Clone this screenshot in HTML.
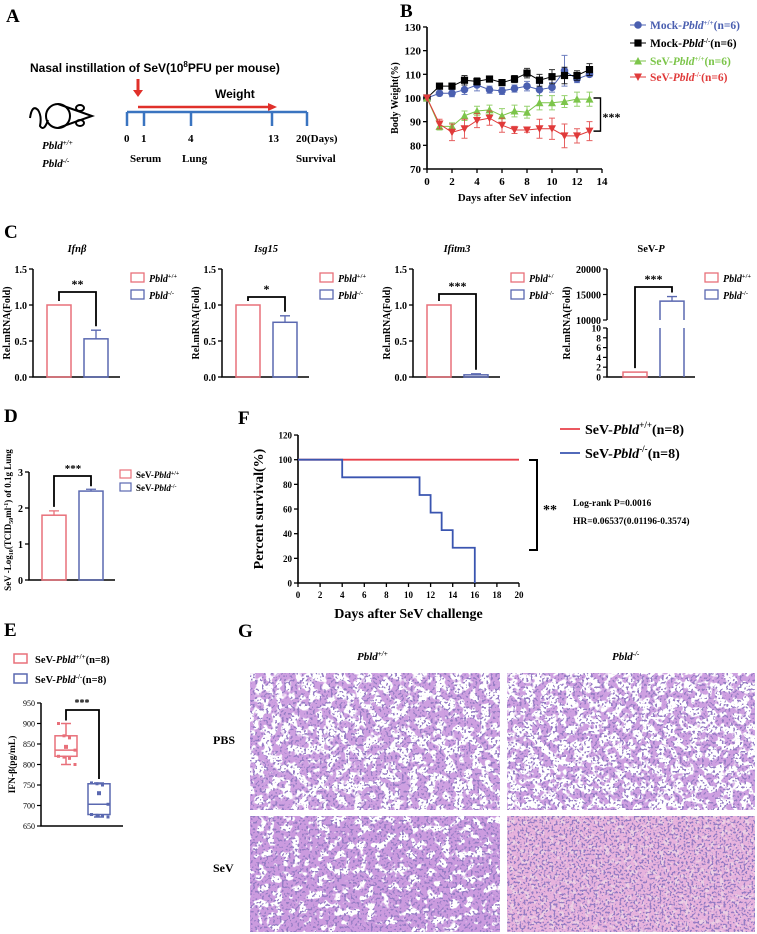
<!DOCTYPE html>
<html><head><meta charset="utf-8"><style>
html,body{margin:0;padding:0;background:#fff;}
svg{display:block;font-family:"Liberation Serif",serif;font-weight:bold;}
</style></head><body>
<svg id="fig" width="757" height="934" viewBox="0 0 757 934" xmlns="http://www.w3.org/2000/svg">
<defs>
<filter id="tissueA" x="0" y="0" width="100%" height="100%"><feTurbulence type="fractalNoise" baseFrequency="0.11" numOctaves="2" seed="3"/><feColorMatrix type="matrix" values="0 0 0 0 0.62  0 0 0 0 0.35  0 0 0 0 0.75  14 0 0 0 -6.3"/></filter>
<filter id="tissueB" x="0" y="0" width="100%" height="100%"><feTurbulence type="fractalNoise" baseFrequency="0.12" numOctaves="2" seed="7"/><feColorMatrix type="matrix" values="0 0 0 0 0.62  0 0 0 0 0.35  0 0 0 0 0.75  14 0 0 0 -6.6"/></filter>
<filter id="tissueC" x="0" y="0" width="100%" height="100%"><feTurbulence type="fractalNoise" baseFrequency="0.12" numOctaves="2" seed="11"/><feColorMatrix type="matrix" values="0 0 0 0 0.6  0 0 0 0 0.33  0 0 0 0 0.74  14 0 0 0 -5.4"/></filter>
<filter id="tissueD" x="0" y="0" width="100%" height="100%"><feTurbulence type="fractalNoise" baseFrequency="0.2" numOctaves="2" seed="5"/><feColorMatrix type="matrix" values="0 0 0 0 0.8  0 0 0 0 0.45  0 0 0 0 0.72  12 0 0 0 -4.2"/></filter>
<filter id="nuclei" x="0" y="0" width="100%" height="100%"><feTurbulence type="fractalNoise" baseFrequency="0.45" numOctaves="1" seed="9"/><feColorMatrix type="matrix" values="0 0 0 0 0.3  0 0 0 0 0.2  0 0 0 0 0.55  22 0 0 0 -12.5"/></filter>
<filter id="nucleiD" x="0" y="0" width="100%" height="100%"><feTurbulence type="fractalNoise" baseFrequency="0.5" numOctaves="1" seed="13"/><feColorMatrix type="matrix" values="0 0 0 0 0.3  0 0 0 0 0.2  0 0 0 0 0.55  22 0 0 0 -12"/></filter>
</defs>

<!-- Panel A -->
<g>
<text x="6" y="22" font-size="19">A</text>
<text x="30" y="72" font-size="12" font-family="Liberation Sans, sans-serif">Nasal instillation of SeV(10<tspan font-size="8" dy="-5">8</tspan><tspan dy="5">PFU per mouse)</tspan></text>
<g><line x1="138" y1="79" x2="138" y2="91" stroke="#e0302a" stroke-width="3"/><polygon points="133,90 143,90 138,97" fill="#e0302a"/></g>
<g><line x1="138" y1="107" x2="270" y2="107" stroke="#e0302a" stroke-width="2.5"/><polygon points="268,103 277,107 268,111" fill="#e0302a"/></g>
<text x="215" y="98" font-size="12" font-family="Liberation Sans, sans-serif">Weight</text>
<g stroke="#3a74c0" stroke-width="2.5" fill="none">
<line x1="127" y1="112" x2="307" y2="112"/>
<line x1="127" y1="112" x2="127" y2="126"/><line x1="144" y1="112" x2="144" y2="126"/><line x1="191" y1="112" x2="191" y2="126"/><line x1="272" y1="112" x2="272" y2="126"/><line x1="307" y1="112" x2="307" y2="126"/>
</g>
<g font-size="11">
<text x="124" y="142">0</text><text x="141" y="142">1</text><text x="188" y="142">4</text><text x="268" y="142">13</text><text x="296" y="142">20(Days)</text>
<text x="130" y="162">Serum</text><text x="182" y="162">Lung</text><text x="296" y="162">Survival</text>
</g>
<g fill="none" stroke="#000" stroke-width="2">
<path d="M30,118 Q32,104 38,110 Q42,116 40,126 Q44,132 48,120"/>
<circle cx="58" cy="116" r="12"/>
<path d="M58,104 L92,116 L58,128"/>
<ellipse cx="80" cy="108" rx="4" ry="3"/><ellipse cx="80" cy="123" rx="4" ry="3"/>
</g>
<text x="42" y="149" font-size="11" font-style="italic">Pbld<tspan font-size="7" dy="-4">+/+</tspan></text>
<text x="42" y="167" font-size="11" font-style="italic">Pbld<tspan font-size="7" dy="-4">-/-</tspan></text>
</g>

<!-- Panel G -->
<g>
<text x="238" y="637" font-size="19">G</text>
<text x="357" y="660" font-size="11" font-style="italic">Pbld<tspan font-size="7" dy="-4">+/+</tspan></text>
<text x="612" y="660" font-size="11" font-style="italic">Pbld<tspan font-size="7" dy="-4">-/-</tspan></text>
<text x="213" y="744" font-size="12">PBS</text>
<text x="213" y="872" font-size="12">SeV</text>
<g>
<rect x="250" y="673" width="250" height="137" fill="#fff"/>
<rect x="250" y="673" width="250" height="137" filter="url(#tissueA)"/>
<rect x="250" y="673" width="250" height="137" filter="url(#nuclei)"/>
</g>
<g>
<rect x="507" y="673" width="248" height="137" fill="#fff"/>
<rect x="507" y="673" width="248" height="137" filter="url(#tissueB)"/>
<rect x="507" y="673" width="248" height="137" filter="url(#nuclei)"/>
</g>
<g>
<rect x="250" y="816" width="250" height="116" fill="#fff"/>
<rect x="250" y="816" width="250" height="116" filter="url(#tissueC)"/>
<rect x="250" y="816" width="250" height="116" filter="url(#nuclei)"/>
</g>
<g>
<rect x="507" y="816" width="248" height="116" fill="#ecd0e4"/>
<rect x="507" y="816" width="248" height="116" filter="url(#tissueD)"/>
<rect x="507" y="816" width="248" height="116" filter="url(#nucleiD)"/>
</g>
</g>

<g id="dyn"></g>
</svg>
<script>
// ---- Panel B data ----
const bDays=[0,1,2,3,4,5,6,7,8,9,10,11,12,13];
const mockWT=[100,102,102,103.5,105.5,103.5,103,104,105,103.5,104.5,111.5,108,110];
const mockWTerr=[0,1,1.5,2,2.5,1.5,1.5,1.5,2,2.5,2,6.5,1.5,1];
const mockKO=[100,105,105,107.5,107,108,106.5,108,110.5,107.5,109,109.5,109.5,112];
const mockKOerr=[0,1,1,2,1.5,1,1,1.5,2,2.5,3,3.5,2,2.5];
const sevWT=[100,88,88,92.5,94.5,95,92.5,94.5,94,98,98,98.5,99.5,99.5];
const sevWTerr=[0,1.5,1.5,2,2,2,3,2.5,2.5,3,3,2.5,3,3];
const sevKO=[100,89,85.5,87,90.5,91.5,88.5,86.5,86.5,87,87,84,84,86];
const sevKOerr=[0,2,3.5,4,3,3,3,1.5,1,4,4.5,5,3,4];
const bYTicks=[70,80,90,100,110,120,130];
const bXTicks=[0,2,4,6,8,10,12,14];
// ---- Panel C data ----
const cGenes=["Ifnβ","Isg15","Ifitm3","SeV-P"];
const cWT=[1,1,1,1];
const cKO=[0.53,0.76,0.03,13700];
const cKOerr=[0.65,0.85,0.045,14600];
const cStars=["**","*","***","***"];
const cTicks=[0,0.5,1.0,1.5];
const cTickLabels=["0.0","0.5","1.0","1.5"];
const cLowTicks=[0,2,4,6,8,10];
const cHighTicks=[10000,15000,20000];
// ---- Panel D data ----
const dVals=[1.8,2.47];
const dErr=[1.92,2.52];
const dTicks=[0,1,2,3];
// ---- Panel E data ----
const eWTpts=[900,870,865,835,820,818,815,800];
const eKOpts=[755,753,750,703,678,676,675,672];
const eWTbox=[800,820,835,870,900];
const eKObox=[672,678,703,753,755];
const eWTmean=843, eKOmean=730;
const eTicks=[650,700,750,800,850,900,950];
// ---- Panel F data ----
const fWTdays=[0,20], fWTsurv=[100,100];
const fKOdays=[0,4,11,12,13,14,16];
const fKOsurv=[100,85.7,71.4,57.1,42.9,28.6,0];
const fXTicks=[0,2,4,6,8,10,12,14,16,18,20];
const fYTicks=[0,20,40,60,80,100,120];

const NS="http://www.w3.org/2000/svg";
const root=document.getElementById('dyn');
function mk(tag,attrs,parent){const e=document.createElementNS(NS,tag);for(const k in attrs)e.setAttribute(k,attrs[k]);(parent||root).appendChild(e);return e;}
function txt(x,y,s,size,anchor,parent,extra){const t=mk('text',Object.assign({x:x,y:y,'font-size':size,'text-anchor':anchor||'start'},extra||{}),parent);t.textContent=s;return t;}
const PINK="#e8707a", BLUE="#5a68b0";

// ===== Panel B =====
const gB=mk('g',{});


const lb=txt(400,17,'B',19,'start',gB);


const xB=d=>427+d*12.5, yB=v=>169-(v-70)*2.367;
const axB=mk('path',{d:`M${xB(0)},${yB(130)} V${yB(70)} H${xB(14)}`,stroke:'#000','stroke-width':1.6,fill:'none'},gB);


bYTicks.forEach(v=>{mk('line',{x1:xB(0)-4,x2:xB(0),y1:yB(v),y2:yB(v),stroke:'#000','stroke-width':1.3},gB);const t=txt(xB(0)-6,yB(v)+4,String(v),11,'end',gB);});
bXTicks.forEach(v=>{mk('line',{x1:xB(v),x2:xB(v),y1:yB(70),y2:yB(70)+4,stroke:'#000','stroke-width':1.3},gB);const t=txt(xB(v),yB(70)+16,String(v),11,'middle',gB);});
const bxt=txt(xB(7),201,'Days after SeV infection',11,'middle',gB);


const byt=txt(0,0,'Body Weight(%)',10,'middle',gB,{transform:`translate(398,${yB(100)}) rotate(-90)`});


function marker(g,shape,x,y,c){
  if(shape==='circle')return mk('circle',{cx:x,cy:y,r:3.8,fill:c},g);
  if(shape==='square')return mk('rect',{x:x-3.6,y:y-3.6,width:7.2,height:7.2,fill:c},g);
  if(shape==='up')return mk('polygon',{points:`${x-4},${y+3.5} ${x+4},${y+3.5} ${x},${y-4}`,fill:c},g);
  return mk('polygon',{points:`${x-4},${y-3.5} ${x+4},${y-3.5} ${x},${y+4}`,fill:c},g);
}
const series=[[mockWT,mockWTerr,'#4a5fb0','circle','mock-wt'],[mockKO,mockKOerr,'#000','square','mock-ko'],[sevWT,sevWTerr,'#7cc54a','up','sev-wt'],[sevKO,sevKOerr,'#e03a3a','down','sev-ko']];
series.forEach(s=>{
  const g=mk('g',{},gB);
  
  
  const pl=mk('polyline',{points:bDays.map((d,i)=>xB(d)+','+yB(s[0][i])).join(' '),fill:'none',stroke:s[2],'stroke-width':1},g);
  
  
  bDays.forEach((d,i)=>{
    if(s[1][i]>0){const e=mk('path',{d:`M${xB(d)},${yB(s[0][i]-s[1][i])}V${yB(s[0][i]+s[1][i])}M${xB(d)-3},${yB(s[0][i]+s[1][i])}h6M${xB(d)-3},${yB(s[0][i]-s[1][i])}h6`,stroke:s[2],'stroke-width':1,fill:'none',opacity:0.8},g);
    
    }
    const m=marker(g,s[3],xB(d),yB(s[0][i]),s[2]);
    
    
  });
});
const brB=mk('path',{d:`M${xB(13)+4},${yB(100)}H${xB(13)+11}V${yB(86)}H${xB(13)+4}`,stroke:'#000','stroke-width':1.4,fill:'none'},gB);


const stB=txt(xB(13)+13,yB(92)+4,'***',12,'start',gB);


const legB=[['Mock-','+/+','#4a5fb0','circle',25],['Mock-','-/-','#000','square',43],['SeV-','+/+','#7cc54a','up',61],['SeV-','-/-','#e03a3a','down',77]];
legB.forEach(l=>{
  const g=mk('g',{},gB);
  
  
  mk('line',{x1:630,x2:646,y1:l[4],y2:l[4],stroke:l[2],'stroke-width':1},g);
  marker(g,l[3],638,l[4],l[2]);
  const t=mk('text',{x:650,y:l[4]+4,'font-size':11.5,fill:l[2]},g);
  t.innerHTML=`${l[0]}<tspan font-style="italic">Pbld</tspan><tspan font-size="7" dy="-4">${l[1]}</tspan><tspan dy="4">(n=6)</tspan>`;
});

// ===== Panel C =====
const gC=mk('g',{});


const lc=txt(4,238,'C',19,'start',gC);


const cAxisX=[33,222,413,607];
const cBot=377, cTop=269;
function cLegend(g,x,wtLabel){
  [[PINK,wtLabel,278],[BLUE,'-/-',295]].forEach(l=>{
    const lg=mk('g',{},g);
    
    
    mk('rect',{x:x,y:l[2]-5,width:13,height:9,fill:'none',stroke:l[0],'stroke-width':1.3},lg);
    const t=mk('text',{x:x+18,y:l[2]+4,'font-size':10,'font-style':'italic'},lg);
    t.innerHTML=`Pbld<tspan font-size="6.5" dy="-4" font-style="normal">${l[1]}</tspan>`;
  });
}
cGenes.forEach((gene,i)=>{
  const ax=cAxisX[i];
  const g=mk('g',{},gC);
  
  
  const title=mk('text',{x:ax+44,y:252,'font-size':10.5,'text-anchor':'middle','font-style':i<3?'italic':'normal'},g);
  
  
  if(i<3) title.textContent=gene; else title.innerHTML='SeV-<tspan font-style="italic">P</tspan>';
  const yt=txt(0,0,'Rel.mRNA(Fold)',10,'middle',g,{transform:`translate(${i<3?ax-23:ax-37},${(cTop+cBot)/2}) rotate(-90)`});
  
  
  let y;
  const b1=i<3?[ax+14,ax+38]:[ax+16,ax+40], b2=i<3?[ax+51,ax+75]:[ax+53,ax+77];
  if(i<3){
    y=v=>cBot-v*(cBot-cTop)/1.5;
    const a=mk('path',{d:`M${ax},${cTop}V${cBot}H${ax+87}`,stroke:'#000','stroke-width':1.5,fill:'none'},g);
    
    
    cTicks.forEach((v,k)=>{mk('line',{x1:ax-4,x2:ax,y1:y(v),y2:y(v),stroke:'#000','stroke-width':1.3},g);const t=txt(ax-6,y(v)+4,cTickLabels[k],10,'end',g);});
  } else {
    const yl=v=>cBot-v*4.9, yh=v=>320-(v-10000)*0.0051;
    y=v=>v<=10?yl(v):yh(v);
    const a=mk('path',{d:`M${ax},${cTop}V320M${ax},328V${cBot}H${ax+88}`,stroke:'#000','stroke-width':1.5,fill:'none'},g);
    
    
    cLowTicks.forEach(v=>{mk('line',{x1:ax-4,x2:ax,y1:yl(v),y2:yl(v),stroke:'#000','stroke-width':1.2},g);const t=txt(ax-6,yl(v)+3.5,String(v),9.5,'end',g);});
    cHighTicks.forEach(v=>{mk('line',{x1:ax-4,x2:ax,y1:yh(v),y2:yh(v),stroke:'#000','stroke-width':1.2},g);const t=txt(ax-6,yh(v)+4,String(v),10,'end',g);});
  }
  const r1=mk('rect',{x:b1[0],y:y(cWT[i]),width:24,height:cBot-y(cWT[i]),fill:'none',stroke:PINK,'stroke-width':1.5},g);
  
  
  if(i<3){
    const r2=mk('rect',{x:b2[0],y:y(cKO[i]),width:24,height:cBot-y(cKO[i]),fill:'none',stroke:BLUE,'stroke-width':1.5},g);
    
    
  } else {
    const r2=mk('path',{d:`M${b2[0]},${cBot}V328M${b2[0]},320V${y(cKO[i])}H${b2[1]}V320M${b2[1]},328V${cBot}`,fill:'none',stroke:BLUE,'stroke-width':1.5},g);
    
    
  }
  const cx2=(b2[0]+b2[1])/2, cx1=(b1[0]+b1[1])/2;
  const eb=mk('path',{d:`M${cx2},${y(cKO[i])}V${y(cKOerr[i])}M${cx2-5},${y(cKOerr[i])}h10`,stroke:BLUE,'stroke-width':1.3,fill:'none'},g);
  
  
  const top=[292,297,294,287][i];
  const br=mk('path',{d:`M${cx1},${y(cWT[i])-4}V${top}H${cx2}V${y(cKOerr[i])-4}`,stroke:'#000','stroke-width':1.8,fill:'none'},g);
  
  
  const st=txt((cx1+cx2)/2,top-4,cStars[i],12,'middle',g);
  
  
  cLegend(g,ax+98,i===2?'+/':'+/+');
});

// ===== Panel D =====
const gD=mk('g',{});


const ld=txt(4,422,'D',19,'start',gD);


const yD=v=>580-v*36, axD=29;
const aD=mk('path',{d:`M${axD},${yD(3)}V${yD(0)}H115`,stroke:'#000','stroke-width':1.5,fill:'none'},gD);


dTicks.forEach(v=>{mk('line',{x1:axD-4,x2:axD,y1:yD(v),y2:yD(v),stroke:'#000','stroke-width':1.3},gD);const t=txt(axD-6,yD(v)+4,String(v),10,'end',gD);});
const dyt=mk('text',{transform:`translate(11,520) rotate(-90)`,'font-size':9,'text-anchor':'middle'},gD);
dyt.innerHTML='SeV -Log<tspan font-size="6" dy="2">10</tspan><tspan dy="-2">(TCID</tspan><tspan font-size="6" dy="2">50</tspan><tspan dy="-2">ml</tspan><tspan font-size="6" dy="-3">-1</tspan><tspan dy="3">) of 0.1g Lung</tspan>';


const dBars=[[42,PINK,'bar-wt'],[79,BLUE,'bar-ko']];
dBars.forEach((b,i)=>{
  const r=mk('rect',{x:b[0],y:yD(dVals[i]),width:24,height:yD(0)-yD(dVals[i]),fill:'none',stroke:b[1],'stroke-width':1.5},gD);
  
  
  const e=mk('path',{d:`M${b[0]+12},${yD(dVals[i])}V${yD(dErr[i])}M${b[0]+7},${yD(dErr[i])}h10`,stroke:b[1],'stroke-width':1.3,fill:'none'},gD);
  
  
});
const brD=mk('path',{d:`M54,${yD(dErr[0])-4}V476H91V${yD(dErr[1])-3}`,stroke:'#000','stroke-width':1.8,fill:'none'},gD);


const sD=txt(73,472,'***',11,'middle',gD);


[[PINK,'+/+',475],[BLUE,'-/-',488]].forEach(l=>{
  const lg=mk('g',{},gD);
  
  
  mk('rect',{x:120,y:l[2]-5,width:11,height:8,fill:'none',stroke:l[0],'stroke-width':1.2},lg);
  const t=mk('text',{x:136,y:l[2]+3,'font-size':9},lg);
  t.innerHTML=`SeV-<tspan font-style="italic">Pbld</tspan><tspan font-size="6" dy="-3">${l[1]}</tspan>`;
});

// ===== Panel E =====
const gE=mk('g',{});


const le=txt(4,636,'E',19,'start',gE);


[[PINK,'+/+',659],[BLUE,'-/-',679]].forEach(l=>{
  const lg=mk('g',{},gE);
  
  
  mk('rect',{x:14,y:l[2]-5,width:13,height:9,fill:'none',stroke:l[0],'stroke-width':1.5},lg);
  const t=mk('text',{x:35,y:l[2]+4,'font-size':10.5},lg);
  t.innerHTML=`SeV-<tspan font-style="italic">Pbld</tspan><tspan font-size="7" dy="-4">${l[1]}</tspan><tspan dy="4">(n=8)</tspan>`;
});
const yE=v=>826-(v-650)*0.41, axE=41;
const aE=mk('path',{d:`M${axE},${yE(950)}V${yE(650)}H123`,stroke:'#000','stroke-width':1.5,fill:'none'},gE);


eTicks.forEach(v=>{mk('line',{x1:axE-4,x2:axE,y1:yE(v),y2:yE(v),stroke:'#000','stroke-width':1.2},gE);const t=txt(axE-6,yE(v)+3,String(v),8,'end',gE,{'font-weight':'normal'});});
const eyt=txt(0,0,'IFN-β(pg/mL)',9.5,'middle',gE,{transform:`translate(15,${yE(800)}) rotate(-90)`});


function box(g,x0,bx,col,pts,mean,nm){
  const bg=mk('g',{},g);
  
  
  const c=x0+11;
  mk('path',{d:`M${c},${yE(bx[0])}V${yE(bx[1])}M${c},${yE(bx[3])}V${yE(bx[4])}M${c-5},${yE(bx[0])}h10M${c-5},${yE(bx[4])}h10M${x0},${yE(bx[2])}h22`,stroke:col,'stroke-width':1.5,fill:'none'},bg);
  mk('rect',{x:x0,y:yE(bx[3]),width:22,height:yE(bx[1])-yE(bx[3]),fill:'none',stroke:col,'stroke-width':1.5},bg);
  pts.forEach((p,k)=>{const d=mk('rect',{x:x0+2+(k%4)*5.5,y:yE(p)-1.5,width:3,height:3,fill:col},bg);});
  mk('rect',{x:c-2,y:yE(mean)-2,width:4,height:4,fill:col},bg);
}
box(gE,55,eWTbox,PINK,eWTpts,eWTmean,'box-wt');
box(gE,88,eKObox,BLUE,eKOpts,eKOmean,'box-ko');
const brE=mk('path',{d:`M66,${yE(eWTbox[4])-3}V710H99V${yE(eKObox[4])-4}`,stroke:'#000','stroke-width':1.8,fill:'none'},gE);


const sE=txt(82,706,'***',10,'middle',gE);



// ===== Panel F =====
const gF=mk('g',{});


const lf=txt(238,424,'F',19,'start',gF);


const xF=d=>298+d*11.05, yF=v=>583-v*1.233;
const aF=mk('path',{d:`M${xF(0)},${yF(120)}V${yF(0)}H${xF(20)}`,stroke:'#000','stroke-width':1.6,fill:'none'},gF);


fYTicks.forEach(v=>{mk('line',{x1:xF(0)-4,x2:xF(0),y1:yF(v),y2:yF(v),stroke:'#000','stroke-width':1.3},gF);const t=txt(xF(0)-6,yF(v)+3.5,String(v),9,'end',gF);});
fXTicks.forEach(v=>{mk('line',{x1:xF(v),x2:xF(v),y1:yF(0),y2:yF(0)+4,stroke:'#000','stroke-width':1.3},gF);const t=txt(xF(v),yF(0)+15,String(v),9,'middle',gF);});
const fxt=txt(xF(10),618,'Days after SeV challenge',14,'middle',gF);


const fyt=txt(0,0,'Percent survival(%)',14,'middle',gF,{transform:`translate(263,${yF(60)}) rotate(-90)`});


function stepPath(days,surv){let d=`M${xF(days[0])},${yF(surv[0])}`;for(let i=1;i<days.length;i++){d+=`H${xF(days[i])}V${yF(surv[i])}`;}return d;}
const kw=mk('path',{d:stepPath(fWTdays,fWTsurv),stroke:'#e8404a','stroke-width':1.8,fill:'none'},gF);


const kk=mk('path',{d:stepPath(fKOdays,fKOsurv),stroke:'#3a55b0','stroke-width':1.8,fill:'none'},gF);


[['#e8404a','+/+',429],['#3a55b0','-/-',453]].forEach(l=>{
  const lg=mk('g',{},gF);
  
  
  mk('line',{x1:560,x2:580,y1:l[2],y2:l[2],stroke:l[0],'stroke-width':1.8},lg);
  const t=mk('text',{x:585,y:l[2]+5,'font-size':14},lg);
  t.innerHTML=`SeV-<tspan font-style="italic">Pbld</tspan><tspan font-size="9" dy="-6">${l[1]}</tspan><tspan dy="6">(n=8)</tspan>`;
});
const brF=mk('path',{d:`M529,460H537V550H529`,stroke:'#000','stroke-width':2,fill:'none'},gF);


const sF=txt(543,514,'**',14,'start',gF);


const lr=txt(573,506,'Log-rank P=0.0016',9.5,'start',gF);


const hr=txt(573,524,'HR=0.06537(0.01196-0.3574)',9.5,'start',gF);


</script>
</body></html>
